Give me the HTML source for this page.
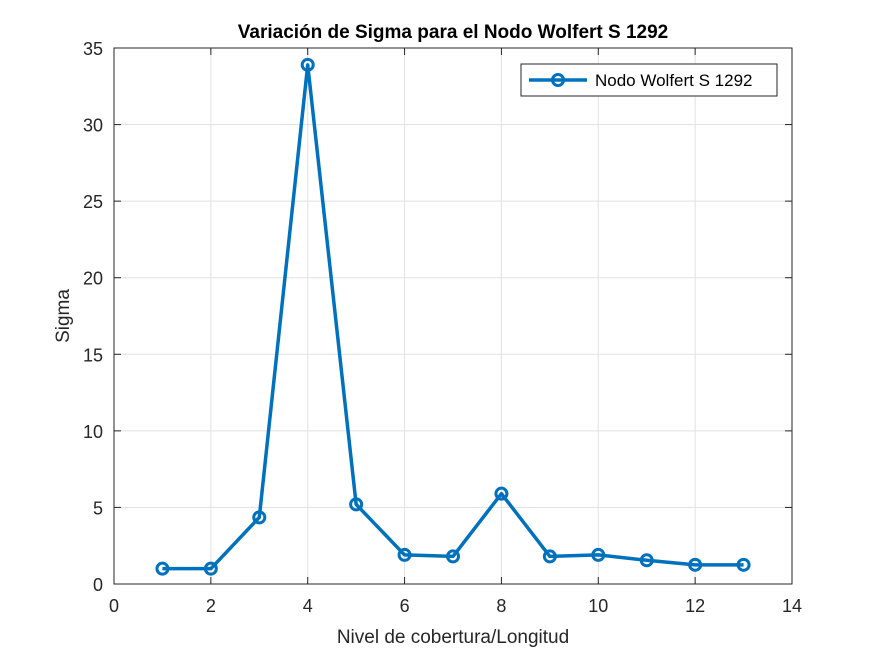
<!DOCTYPE html>
<html><head><meta charset="utf-8"><style>
html,body{margin:0;padding:0;background:#fff;width:875px;height:656px;overflow:hidden}
text{font-family:"Liberation Sans",sans-serif}
</style></head><body>
<svg id="chart" width="875" height="656" xmlns="http://www.w3.org/2000/svg"></svg>
<script>
const categories=[1,2,3,4,5,6,7,8,9,10,11,12,13];
const sigmaValues=[1.0,1.0,4.35,33.9,5.2,1.9,1.8,5.9,1.8,1.9,1.55,1.25,1.25];
const xTicks=[0,2,4,6,8,10,12,14];
const yTicks=[0,5,10,15,20,25,30,35];
const L=114,R=792,T=48,B=584;
const sx=v=>L+(v-0)/(14-0)*(R-L);
const sy=v=>B-(v-0)/(35-0)*(B-T);
const svg=document.getElementById('chart');
const NS='http://www.w3.org/2000/svg';
function mk(tag,attrs,parent){const e=document.createElementNS(NS,tag);for(const k in attrs)e.setAttribute(k,attrs[k]);(parent||svg).appendChild(e);return e;}
const bg=mk('rect',{x:L,y:T,width:R-L,height:B-T,fill:'#fff'});


xTicks.forEach(t=>{
  const g=mk('line',{x1:sx(t),x2:sx(t),y1:T,y2:B,stroke:'#e1e1e1','stroke-width':1});
  
  
  mk('line',{x1:sx(t),x2:sx(t),y1:B,y2:B-7,stroke:'#262626'});
  mk('line',{x1:sx(t),x2:sx(t),y1:T,y2:T+7,stroke:'#262626'});
  const lb=mk('text',{x:sx(t),y:B+28,'text-anchor':'middle','font-size':18,fill:'#262626'});
  lb.textContent=t;
  
  
});
yTicks.forEach(t=>{
  const g=mk('line',{x1:L,x2:R,y1:sy(t),y2:sy(t),stroke:'#e1e1e1','stroke-width':1});
  
  
  mk('line',{x1:L,x2:L+7,y1:sy(t),y2:sy(t),stroke:'#262626'});
  mk('line',{x1:R,x2:R-7,y1:sy(t),y2:sy(t),stroke:'#262626'});
  const lb=mk('text',{x:L-11,y:sy(t)+7,'text-anchor':'end','font-size':18,fill:'#262626'});
  lb.textContent=t;
  
  
});
const frame=mk('rect',{x:L,y:T,width:R-L,height:B-T,fill:'none',stroke:'#262626','stroke-width':1});


const pts=categories.map((c,i)=>sx(c)+','+sy(sigmaValues[i])).join(' ');
const line=mk('polyline',{points:pts,fill:'none',stroke:'#0072bd','stroke-width':3.5,'stroke-linejoin':'round'});


categories.forEach((c,i)=>{
  const p=mk('circle',{cx:sx(c),cy:sy(sigmaValues[i]),r:5.5,fill:'none',stroke:'#0072bd','stroke-width':3});
  
  
});
const title=mk('text',{x:(L+R)/2,y:38,'text-anchor':'middle','font-size':19,'font-weight':'bold',fill:'#000'});
title.textContent='Variación de Sigma para el Nodo Wolfert S 1292';


const xt=mk('text',{x:(L+R)/2,y:643,'text-anchor':'middle','font-size':19,fill:'#262626'});
xt.textContent='Nivel de cobertura/Longitud';


const yt=mk('text',{x:0,y:0,'text-anchor':'middle','font-size':19,fill:'#262626',transform:'translate(69,316) rotate(-90)'});
yt.textContent='Sigma';


const lg=mk('g',{});


mk('rect',{x:521,y:64,width:256,height:32,fill:'#fff',stroke:'#262626','stroke-width':1},lg);
mk('line',{x1:529,x2:587,y1:80,y2:80,stroke:'#0072bd','stroke-width':3.5},lg);
mk('circle',{cx:558,cy:80,r:5.5,fill:'none',stroke:'#0072bd','stroke-width':3},lg);
const lt=mk('text',{x:595,y:86,'font-size':17,fill:'#000'},lg);
lt.textContent='Nodo Wolfert S 1292';


</script>
</body></html>
